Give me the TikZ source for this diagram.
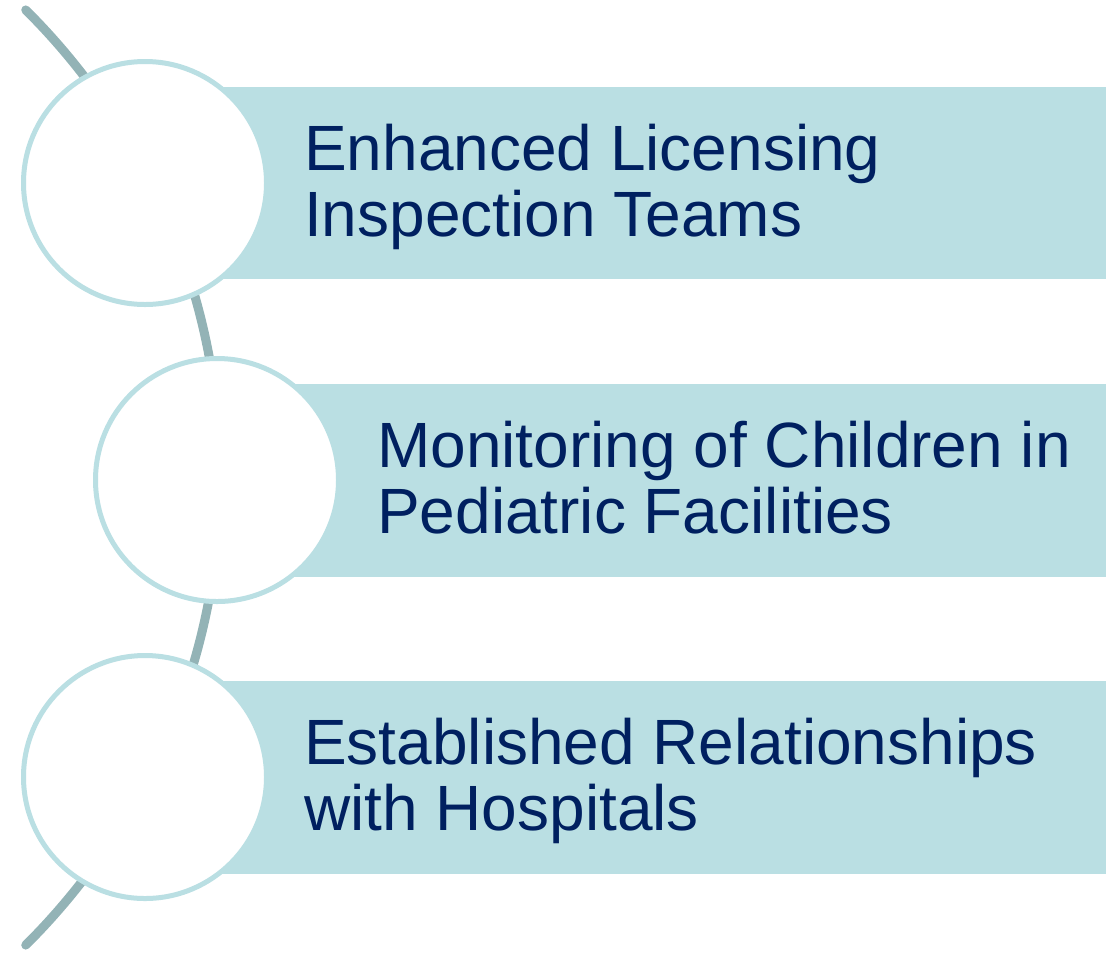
\documentclass[tikz,border=0pt]{standalone}
\usepackage{fontspec}
\setmainfont{Liberation Sans}
\definecolor{barteal}{HTML}{BADFE3}
\definecolor{arcgray}{HTML}{93B3B6}
\definecolor{textnavy}{HTML}{002060}
\begin{document}
\begin{tikzpicture}[x=1pt,y=1pt,
    bar/.style={fill=barteal,draw=none},
    stage/.style={circle,draw=barteal,line width=5pt,fill=white,minimum size=243pt,inner sep=0pt},
    itemtext/.style={anchor=west,inner sep=0pt,text=textnavy,align=left,font=\fontsize{64}{66}\selectfont}]
    \useasboundingbox (0,0) rectangle (1115,-954);
    \draw[arcgray,line width=9pt,line cap=round] (-438.6,-477.5) ++(45.2:659) arc[start angle=45.2,end angle=-45.2,radius=659];

    \fill[bar] (145,-87) rectangle (1106,-279);
    \fill[bar] (217,-384) rectangle (1106,-577);
    \fill[bar] (145,-681) rectangle (1106,-874);

    \node[stage] (c1) at (145,-183) {};
    \node[stage] (c2) at (217,-480) {};
    \node[stage] (c3) at (145,-777) {};

    \node[itemtext] (t1) at (304,-186.75) {Enhanced Licensing\\Inspection Teams};
    \node[itemtext] (t2) at (377,-477.5) {Monitoring of Children in\\Pediatric Facilities};
    \node[itemtext] (t3) at (304,-781.25) {Established Relationships\\with Hospitals};
\end{tikzpicture}
\end{document}
